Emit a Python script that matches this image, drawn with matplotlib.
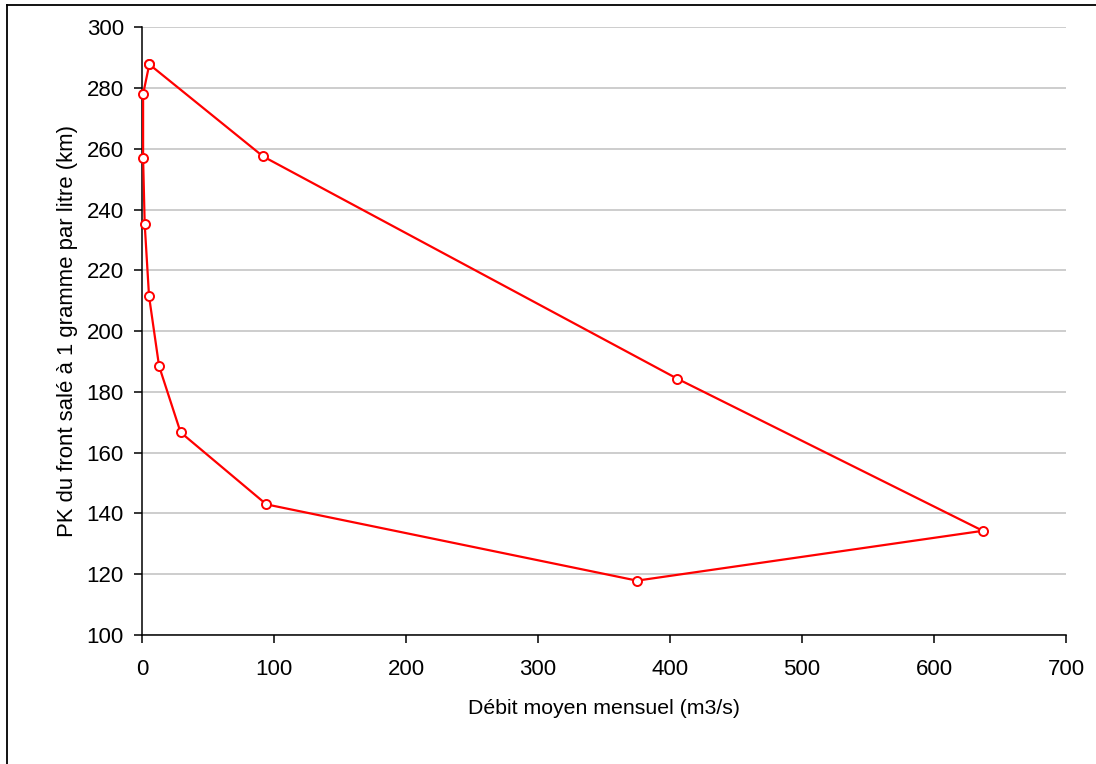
import matplotlib
matplotlib.use("Agg")
import matplotlib.pyplot as plt
from matplotlib.lines import Line2D

plt.rcParams['font.family'] = ['Liberation Sans', 'DejaVu Sans']

# Monthly mean discharge (m3/s) and PK of the 1 g/L salt front (km), closed loop
debit = [5.5, 0.8, 0.8, 2.0, 5.3, 12.9, 29.2, 94.2, 375.0, 637.0, 405.3, 91.7, 5.5]
pk_front = [287.8, 278.0, 257.0, 235.3, 211.5, 188.5, 166.7, 143.0, 117.9, 134.3, 184.4, 257.5, 287.8]

x_ticks = [0, 100, 200, 300, 400, 500, 600, 700]
y_ticks = [100, 120, 140, 160, 180, 200, 220, 240, 260, 280, 300]

fig = plt.figure(figsize=(10.96, 7.64), dpi=100)
ax = fig.add_axes([0.1296, 0.1688, 0.8430, 0.7955])

ax.plot(debit, pk_front, color='#ff0000', linewidth=1.6, marker='o',
        markersize=6.5, markerfacecolor='white', markeredgecolor='#ff0000',
        markeredgewidth=1.4, zorder=3, clip_on=False)

ax.set_xlim(0, 700)
ax.set_ylim(100, 300)
ax.set_xticks(x_ticks)
ax.set_yticks(y_ticks)
ax.grid(axis='y', color='#c0c0c0', linewidth=1.1)
ax.set_axisbelow(True)

for side in ('top', 'right'):
    ax.spines[side].set_visible(False)
for side in ('left', 'bottom'):
    ax.spines[side].set_linewidth(1.1)

ax.tick_params(axis='both', direction='out', length=6, width=1.1,
               labelsize=16, colors='black')
ax.tick_params(axis='y', pad=7)
ax.tick_params(axis='x', pad=11)

ax.set_xlabel('Débit moyen mensuel (m3/s)', fontsize=15.3, labelpad=14)
ax.set_ylabel('PK du front salé à 1 gramme par litre (km)', fontsize=15.9, labelpad=6)

# Outer frame of the chart area (top and left edges)
fig.add_artist(Line2D([7 / 1096, 1.0], [1 - 5 / 764, 1 - 5 / 764],
                      transform=fig.transFigure, color='black', linewidth=1.3))
fig.add_artist(Line2D([7 / 1096, 7 / 1096], [0.0, 1 - 5 / 764],
                      transform=fig.transFigure, color='black', linewidth=1.3))

fig.savefig('out.png', dpi=100, facecolor='white')
